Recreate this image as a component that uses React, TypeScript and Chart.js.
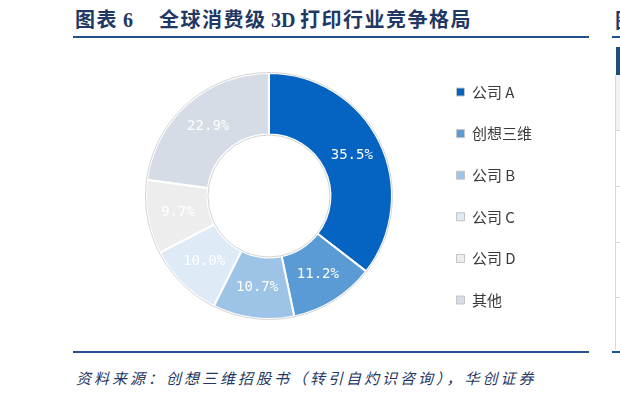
import React, { useEffect, useRef } from "react";
import { Chart, registerables } from "chart.js";

Chart.register(...registerables);

const categories = ["公司 A", "创想三维", "公司 B", "公司 C", "公司 D", "其他"];
const shares = [35.5, 11.2, 10.7, 10.0, 9.7, 22.9];
const sliceColors = ["#0563c1", "#5b9bd5", "#9dc3e6", "#deebf7", "#ededed", "#d6dce5"];
const titleParts = ["图表", "6", "全球消费级", "3D", "打印行业竞争格局"];
const sourceText = "资料来源：创想三维招股书（转引自灼识咨询），华创证券";

const outlinePlugin = {
  id: "ringOutline",
  afterDatasetsDraw(chart: any) {
    const meta = chart.getDatasetMeta(0);
    const arc = meta.data[0];
    if (!arc) return;
    const { x, y, outerRadius, innerRadius } = arc.getProps(["x", "y", "outerRadius", "innerRadius"], true);
    const ctx = chart.ctx;
    ctx.save();
    ctx.strokeStyle = "#d4d4d4";
    ctx.lineWidth = 1;
    ctx.beginPath();
    ctx.arc(x, y, outerRadius + 0.5, 0, Math.PI * 2);
    ctx.stroke();
    ctx.beginPath();
    ctx.arc(x, y, innerRadius - 0.5, 0, Math.PI * 2);
    ctx.stroke();
    ctx.restore();
  },
};

const labelPlugin = {
  id: "sliceLabels",
  afterDatasetsDraw(chart: any) {
    const meta = chart.getDatasetMeta(0);
    const ctx = chart.ctx;
    ctx.save();
    ctx.fillStyle = "#ffffff";
    ctx.font = '14px "DejaVu Sans Mono"';
    ctx.textAlign = "center";
    ctx.textBaseline = "middle";
    meta.data.forEach((arc: any, i: number) => {
      const p = arc.tooltipPosition(true);
      ctx.fillText(shares[i].toFixed(1) + "%", p.x, p.y);
    });
    ctx.restore();
  },
};

function DonutChart() {
  const ref = useRef<HTMLCanvasElement | null>(null);
  useEffect(() => {
    if (!ref.current) return;
    const chart = new Chart(ref.current, {
      type: "doughnut",
      data: {
        labels: categories,
        datasets: [
          {
            data: shares,
            backgroundColor: sliceColors,
            borderColor: "#ffffff",
            borderWidth: 2,
          },
        ],
      },
      options: {
        animation: false,
        responsive: true,
        maintainAspectRatio: false,
        radius: 123,
        cutout: "50%",
        layout: { padding: { left: 35, right: 47, top: 0, bottom: 0 } },
        plugins: {
          tooltip: { enabled: false },
          legend: {
            position: "right",
            labels: {
              boxWidth: 8,
              boxHeight: 8,
              padding: 26.6,
              color: "#3a3a3a",
              font: { size: 15, family: '"Noto Sans CJK SC", sans-serif' },
              generateLabels: (c: any) => {
                const base = (Chart as any).overrides.doughnut.plugins.legend.labels.generateLabels(c);
                return base.map((it: any) => ({ ...it, strokeStyle: "#c4c4c4", lineWidth: 1 }));
              },
            },
          },
        },
      } as any,
      plugins: [outlinePlugin, labelPlugin],
    });
    return () => chart.destroy();
  }, []);
  return <canvas ref={ref} />;
}

const titleX = [75, 123, 159, 271, 300];

export default function App() {
  const blue = "#1f3864";
  const lineBlue = "#24508f";
  return (
    <div
      style={{
        position: "absolute",
        left: 0,
        top: 0,
        width: 620,
        height: 395,
        overflow: "hidden",
        background: "#ffffff",
      }}
    >
      {titleParts.map((t, i) => (
        <div
          key={i}
          style={{
            position: "absolute",
            left: titleX[i],
            top: 9,
            lineHeight: "22px",
            fontSize: 20,
            fontWeight: "bold",
            letterSpacing: /[0-9A-Z]/.test(t) ? 0 : 1.5,
            fontFamily: '"Liberation Serif", "Noto Sans CJK SC", serif',
            color: blue,
            whiteSpace: "pre",
          }}
        >
          {t}
        </div>
      ))}
      <div style={{ position: "absolute", left: 73, top: 36, width: 516, height: 2, background: lineBlue }} />
      <div style={{ position: "absolute", left: 73, top: 351, width: 516, height: 2, background: lineBlue }} />
      <div
        style={{
          position: "absolute",
          left: 76,
          top: 369,
          lineHeight: "18px",
          fontSize: 15,
          fontStyle: "italic",
          letterSpacing: 3,
          fontFamily: '"Noto Sans CJK SC", sans-serif',
          color: blue,
          whiteSpace: "pre",
        }}
      >
        {sourceText}
      </div>

      {/* neighbouring panel, clipped at the right edge */}
      <div
        style={{
          position: "absolute",
          left: 615,
          top: 9,
          lineHeight: "22px",
          fontSize: 20,
          fontWeight: "bold",
          fontFamily: '"Noto Sans CJK SC", serif',
          color: blue,
          whiteSpace: "pre",
        }}
      >
        图表
      </div>
      <div style={{ position: "absolute", left: 612, top: 36, width: 20, height: 2, background: lineBlue }} />
      <div style={{ position: "absolute", left: 612, top: 351, width: 20, height: 2, background: lineBlue }} />
      <div style={{ position: "absolute", left: 616, top: 47, width: 10, height: 28, background: "#1f4e79" }} />
      <div style={{ position: "absolute", left: 616, top: 75, width: 10, height: 55, background: "#f2f2f2" }} />
      <div style={{ position: "absolute", left: 615, top: 75, width: 1, height: 275, background: "#d9d9d9" }} />
      {[130, 186, 242, 297].map((y) => (
        <div key={y} style={{ position: "absolute", left: 616, top: y, width: 10, height: 1, background: "#d9d9d9" }} />
      ))}

      <div style={{ position: "absolute", left: 73, top: 40, width: 516, height: 312 }}>
        <DonutChart />
      </div>
    </div>
  );
}
